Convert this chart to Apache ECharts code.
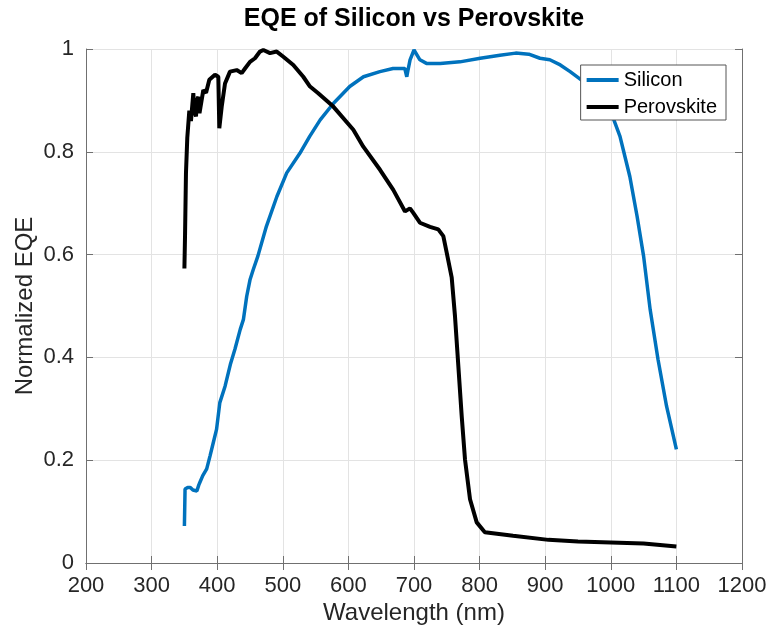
<!DOCTYPE html>
<html>
<head>
<meta charset="utf-8">
<script src="https://cdn.jsdelivr.net/npm/echarts@6/dist/echarts.min.js"></script>
<style>
html,body{margin:0;padding:0;background:#fff;}
#chart{width:771px;height:630px;}
</style>
</head>
<body>
<div id="chart"></div>
<script>
const titleText = 'EQE of Silicon vs Perovskite';
const xAxisName = 'Wavelength (nm)';
const yAxisName = 'Normalized EQE';
const seriesNames = ['Silicon', 'Perovskite'];

const siliconWavelength = [350,351,355,359,363,366,369,372,374,378,384,389,394,399,404,412,420,427,435,440,445,450,455,462,475,491,506,526,541,557,577,602,623,648,668,686,689,691,694,700,709,719,740,770,801,831,855,875,892,907,923,938,960,980,1000,1014,1019,1029,1040,1050,1060,1072,1085,1100];
const siliconEQE = [0.072,0.144,0.147,0.147,0.142,0.145,0.140,0.152,0.158,0.170,0.183,0.208,0.234,0.260,0.312,0.344,0.386,0.416,0.454,0.474,0.519,0.551,0.571,0.597,0.655,0.713,0.759,0.797,0.830,0.862,0.894,0.927,0.946,0.956,0.962,0.962,0.946,0.960,0.979,0.998,0.979,0.972,0.972,0.975,0.982,0.988,0.992,0.990,0.982,0.979,0.969,0.956,0.935,0.910,0.878,0.830,0.804,0.752,0.675,0.597,0.493,0.396,0.305,0.221];

const perovskiteWavelength = [350,351,352.4,354.4,357.5,360,363.6,365,367.7,369,371.2,373,374.8,378.8,383,388,396.6,401.7,403.2,406.9,411.9,419.5,429.7,437.3,442.4,450,457.6,465.2,470.3,480.5,490.7,500.8,516,531.2,541.5,554,577,607.5,622.7,648.2,668.4,686.3,693.9,698.9,709,724.4,737,744.7,750,757.5,762.5,767.6,772.7,777.7,785.4,795.6,808,851,905,950,1000,1050,1100];
const perovskiteEQE = [0.573,0.64,0.759,0.827,0.880,0.860,0.914,0.880,0.869,0.900,0.907,0.875,0.872,0.920,0.915,0.940,0.950,0.946,0.846,0.888,0.933,0.956,0.959,0.953,0.962,0.975,0.982,0.995,0.998,0.992,0.995,0.985,0.969,0.946,0.927,0.914,0.888,0.843,0.810,0.765,0.726,0.684,0.690,0.681,0.662,0.654,0.649,0.636,0.603,0.555,0.480,0.383,0.286,0.202,0.124,0.079,0.060,0.053,0.045,0.042,0.040,0.038,0.032];

function zip(xs, ys){ return xs.map((x,i)=>[x, ys[i]]); }

const FONT = '"Liberation Sans", Arial, Helvetica, sans-serif';
const AXIS_COLOR = '#707070';
const TEXT_COLOR = '#262626';

const chart = echarts.init(document.getElementById('chart'), null, {renderer:'canvas'});
chart.setOption({
  animation: false,
  backgroundColor: '#fff',
  title: {
    text: titleText,
    left: 414, textAlign: 'center',
    top: 7, padding: 0,
    textStyle: {fontFamily: FONT, fontSize: 25, fontWeight: 'bold', color: '#000'}
  },
  legend: {
    data: seriesNames.map(n=>({name:n, icon:'rect'})),
    orient: 'vertical',
    right: 45, top: 65,
    itemWidth: 32, itemHeight: 4, itemGap: 7,
    padding: [5, 9, 3, 6],
    backgroundColor: '#fff',
    borderColor: '#555', borderWidth: 1,
    textStyle: {fontFamily: FONT, fontSize: 20, color: '#000'}
  },
  grid: {left: 86, right: 29, top: 49, bottom: 66, containLabel: false},
  xAxis: [{
    type: 'value', min: 200, max: 1200, interval: 100,
    name: xAxisName, nameLocation: 'middle', nameGap: 38, nameMoveOverlap: false,
    nameTextStyle: {fontFamily: FONT, fontSize: 24, color: TEXT_COLOR},
    axisLine: {show: true, lineStyle: {color: AXIS_COLOR, width: 1}},
    axisTick: {show: true, inside: true, length: 7, lineStyle: {color: AXIS_COLOR}},
    axisLabel: {fontFamily: FONT, fontSize: 22, color: TEXT_COLOR, margin: 12, formatter: v => String(v)},
    splitLine: {show: true, lineStyle: {color: '#e3e3e3', width: 1}}
  },{
    type: 'value', position: 'top', min: 200, max: 1200, interval: 100,
    axisLine: {show: true, lineStyle: {color: AXIS_COLOR, width: 1}},
    axisTick: {show: true, inside: true, length: 7, lineStyle: {color: AXIS_COLOR}},
    axisLabel: {show: false}, splitLine: {show: false}
  }],
  yAxis: [{
    type: 'value', min: 0, max: 1, interval: 0.2,
    name: yAxisName, nameLocation: 'middle', nameGap: 49, nameMoveOverlap: false,
    nameTextStyle: {fontFamily: FONT, fontSize: 24, color: TEXT_COLOR},
    axisLine: {show: true, lineStyle: {color: AXIS_COLOR, width: 1}},
    axisTick: {show: true, inside: true, length: 7, lineStyle: {color: AXIS_COLOR}},
    axisLabel: {fontFamily: FONT, fontSize: 22, color: TEXT_COLOR, margin: 12, formatter: v => String(Math.round(v*10)/10)},
    splitLine: {show: true, lineStyle: {color: '#e3e3e3', width: 1}}
  },{
    type: 'value', position: 'right', min: 0, max: 1, interval: 0.2,
    axisLine: {show: true, lineStyle: {color: AXIS_COLOR, width: 1}},
    axisTick: {show: true, inside: true, length: 7, lineStyle: {color: AXIS_COLOR}},
    axisLabel: {show: false}, splitLine: {show: false}
  }],
  series: [{
    name: seriesNames[0], type: 'line', xAxisIndex: 0, yAxisIndex: 0,
    data: zip(siliconWavelength, siliconEQE),
    showSymbol: false, symbol: 'none',
    itemStyle: {color: '#0072BD'},
    lineStyle: {color: '#0072BD', width: 3.5}
  },{
    name: seriesNames[1], type: 'line', xAxisIndex: 0, yAxisIndex: 0,
    data: zip(perovskiteWavelength, perovskiteEQE),
    showSymbol: false, symbol: 'none',
    itemStyle: {color: '#000'},
    lineStyle: {color: '#000', width: 4}
  }]
});
</script>
</body>
</html>
